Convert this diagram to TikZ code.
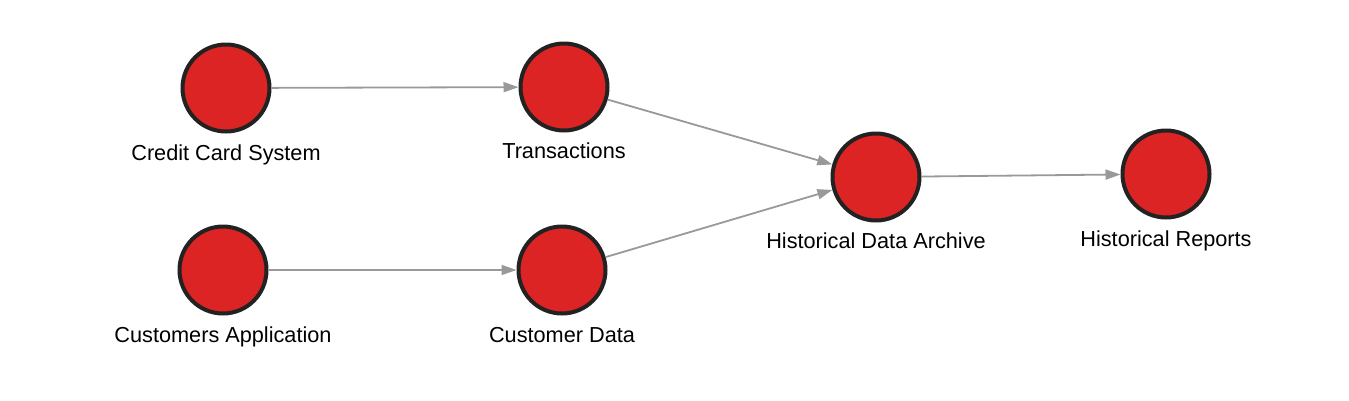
\documentclass[tikz,border=0pt]{standalone}
\usepackage{fontspec}
\setmainfont{Liberation Sans}
\usetikzlibrary{arrows.meta}
\definecolor{nodered}{HTML}{DC2424}
\definecolor{rim}{HTML}{222222}
\definecolor{edgegray}{HTML}{999999}
\tikzset{
  ent/.style={circle, fill=nodered, draw=rim, line width=4pt, minimum size=87pt, inner sep=0pt},
  lab/.style={anchor=base, font=\fontsize{21.7}{24}\selectfont, inner sep=0pt},
  flow/.style={draw=edgegray, line width=1.8pt, -{Triangle[length=15pt,width=10pt]}}
}
\begin{document}
\begin{tikzpicture}[x=1pt,y=-1pt]
\useasboundingbox (0,0) rectangle (1349,400);
\node[ent] (a) at (226,88) {};
\node[ent] (b) at (564,87) {};
\node[ent] (c) at (876,177) {};
\node[ent] (d) at (1166,174) {};
\node[ent] (e) at (223,270) {};
\node[ent] (f) at (562,270) {};
\node[lab] (la) at (226,160) {Credit Card System};
\node[lab] (lb) at (564,158) {Transactions};
\node[lab] (lc) at (876,248) {Historical Data Archive};
\node[lab] (ld) at (1166,246) {Historical Reports};
\node[lab] (le) at (223,342) {Customers Application};
\node[lab] (lf) at (562,342) {Customer Data};
\draw[flow] (a) -- (b);
\draw[flow] (b) -- (c);
\draw[flow] (f) -- (c);
\draw[flow] (e) -- (f);
\draw[flow] (c) -- (d);
\end{tikzpicture}
\end{document}
